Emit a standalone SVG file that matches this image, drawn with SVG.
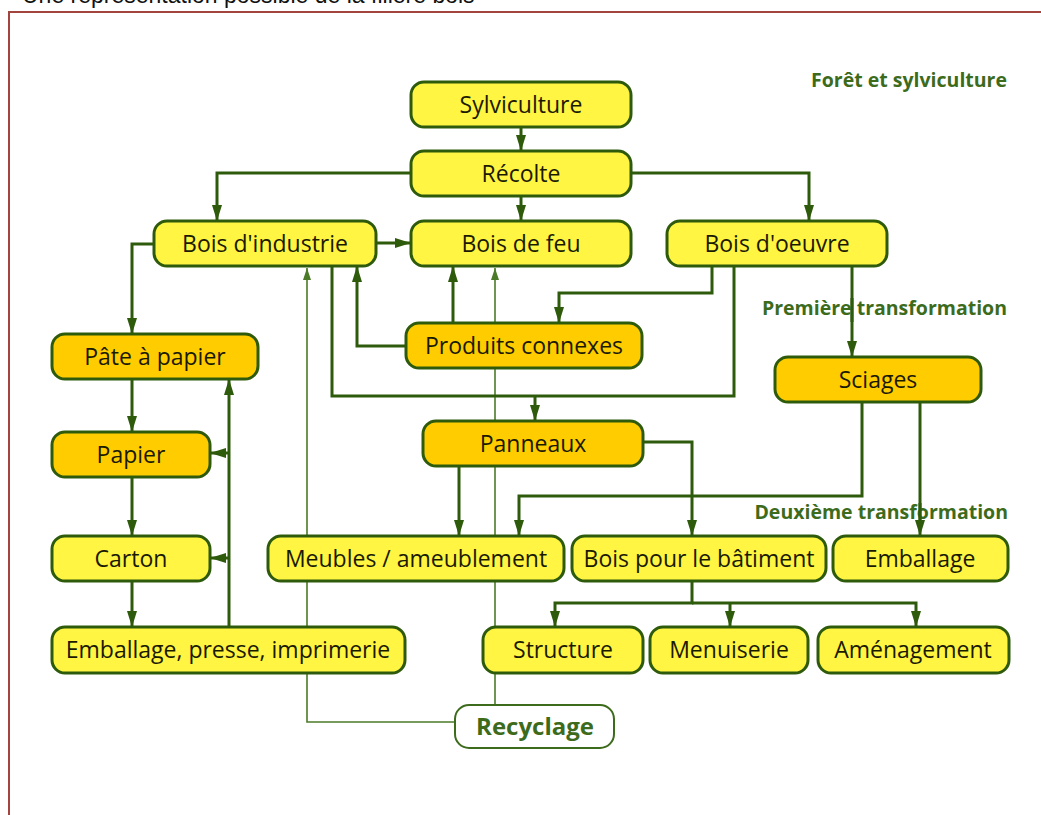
<svg xmlns="http://www.w3.org/2000/svg" width="1041" height="815" viewBox="0 0 1041 815">
<style>
.n rect{stroke:#2e5a0c;stroke-width:3}
.y rect{fill:#fff542}
.o rect{fill:#ffcc00}
.n text{font-family:"Open Sans","Noto Sans",sans-serif;font-size:23px;fill:#1a1a00;text-anchor:middle}
.c{fill:none;stroke:#2e5a0c;stroke-width:3}
.t{fill:none;stroke:#4b7a28;stroke-width:1.6}
.lab{font-family:"Open Sans","Noto Sans",sans-serif;font-weight:bold;font-size:19.5px;fill:#3d6b1c;text-anchor:end}
</style>
<defs>
<marker id="a" viewBox="0 0 16 10" refX="16" refY="5" markerWidth="16" markerHeight="10" markerUnits="userSpaceOnUse" orient="auto">
<path d="M0,0 L16,5 L0,10 z" fill="#2e5a0c"/>
</marker>
<marker id="b" viewBox="0 0 12 8" refX="12" refY="4" markerWidth="12" markerHeight="8" markerUnits="userSpaceOnUse" orient="auto">
<path d="M0,0 L12,4 L0,8 z" fill="#4b7a28"/>
</marker>
</defs>
<rect x="0" y="0" width="1041" height="815" fill="#ffffff"/>
<text x="22" y="3" font-family="Liberation Sans, Arial, sans-serif" font-size="23" fill="#111">Une représentation possible de la filière bois</text>
<path d="M9,815 V12 H1045" fill="none" stroke="#a3443f" stroke-width="2"/>

<g id="connectors">
<g id="thin">
<path class="t" d="M455,722 H307 V268" marker-end="url(#b)"/>
<path class="t" d="M495,705 V268" marker-end="url(#b)"/>
</g>
<path class="c" d="M521,127 V151" marker-end="url(#a)"/>
<path class="c" d="M521,196 V221" marker-end="url(#a)"/>
<path class="c" d="M411,173 H217 V221" marker-end="url(#a)"/>
<path class="c" d="M631,173 H809 V221" marker-end="url(#a)"/>
<path class="c" d="M376,243 H411" marker-end="url(#a)"/>
<path class="c" d="M154,244 H132 V334" marker-end="url(#a)"/>
<path class="c" d="M712,266 V293 H559 V323" marker-end="url(#a)"/>
<path class="c" d="M332,266 V396 H734 V266"/>
<path class="c" d="M535,396 V421" marker-end="url(#a)"/>
<path class="c" d="M852,266 V357" marker-end="url(#a)"/>
<path class="c" d="M406,346 H357 V266" marker-end="url(#a)"/>
<path class="c" d="M453,323 V266" marker-end="url(#a)"/>
<path class="c" d="M132,379 V432" marker-end="url(#a)"/>
<path class="c" d="M132,477 V536" marker-end="url(#a)"/>
<path class="c" d="M132,581 V627" marker-end="url(#a)"/>
<path class="c" d="M229,627 V379" marker-end="url(#a)"/>
<path class="c" d="M229,453 H210" marker-end="url(#a)"/>
<path class="c" d="M229,558 H210" marker-end="url(#a)"/>
<path class="c" d="M459,466 V536" marker-end="url(#a)"/>
<path class="c" d="M643,442 H692 V536" marker-end="url(#a)"/>
<path class="c" d="M862,402 V496 H519 V536" marker-end="url(#a)"/>
<path class="c" d="M920,402 V536" marker-end="url(#a)"/>
<path class="c" d="M692,581 V603 H555 V627" marker-end="url(#a)"/>
<path class="c" d="M692,603 H916 V627" marker-end="url(#a)"/>
<path class="c" d="M730,603 V627" marker-end="url(#a)"/>
</g>

<text class="lab" x="1007" y="87">Forêt et sylviculture</text>
<text class="lab" x="1007" y="315">Première transformation</text>
<text class="lab" x="1008" y="519">Deuxième transformation</text>
<path class="c" d="M852,298 V322"/>
<path class="c" d="M920,503 V527"/>

<g id="sylviculture" class="n y"><rect x="411" y="82" width="220" height="45" rx="13"/><text x="521" y="113">Sylviculture</text></g>
<g id="recolte" class="n y"><rect x="411" y="151" width="220" height="45" rx="13"/><text x="521" y="182">Récolte</text></g>
<g id="bois-industrie" class="n y"><rect x="154" y="221" width="222" height="45" rx="13"/><text x="265" y="252">Bois d'industrie</text></g>
<g id="bois-feu" class="n y"><rect x="411" y="221" width="220" height="45" rx="13"/><text x="521" y="252">Bois de feu</text></g>
<g id="bois-oeuvre" class="n y"><rect x="667" y="221" width="220" height="45" rx="13"/><text x="777" y="252">Bois d'oeuvre</text></g>
<g id="produits-connexes" class="n o"><rect x="406" y="323" width="236" height="45" rx="13"/><text x="524" y="354">Produits connexes</text></g>
<g id="pate-papier" class="n o"><rect x="52" y="334" width="206" height="45" rx="13"/><text x="155" y="365">Pâte à papier</text></g>
<g id="sciages" class="n o"><rect x="775" y="357" width="206" height="45" rx="13"/><text x="878" y="388">Sciages</text></g>
<g id="panneaux" class="n o"><rect x="423" y="421" width="220" height="45" rx="13"/><text x="533" y="452">Panneaux</text></g>
<g id="papier" class="n o"><rect x="52" y="432" width="158" height="45" rx="13"/><text x="131" y="463">Papier</text></g>
<g id="carton" class="n y"><rect x="52" y="536" width="158" height="45" rx="13"/><text x="131" y="567">Carton</text></g>
<g id="meubles" class="n y"><rect x="268" y="536" width="296" height="45" rx="13"/><text x="416" y="567">Meubles / ameublement</text></g>
<g id="bois-batiment" class="n y"><rect x="572" y="536" width="254" height="45" rx="13"/><text x="699" y="567">Bois pour le bâtiment</text></g>
<g id="emballage" class="n y"><rect x="833" y="536" width="175" height="45" rx="13"/><text x="920" y="567">Emballage</text></g>
<g id="emballage-presse" class="n y"><rect x="52" y="627" width="353" height="46" rx="13"/><text x="228" y="658">Emballage, presse, imprimerie</text></g>
<g id="structure" class="n y"><rect x="483" y="627" width="160" height="46" rx="13"/><text x="563" y="658">Structure</text></g>
<g id="menuiserie" class="n y"><rect x="650" y="627" width="158" height="46" rx="13"/><text x="729" y="658">Menuiserie</text></g>
<g id="amenagement" class="n y"><rect x="818" y="627" width="191" height="46" rx="13"/><text x="913" y="658">Aménagement</text></g>
<g id="recyclage"><rect x="455" y="705" width="159" height="43" rx="14" fill="#ffffff" stroke="#3d6b1c" stroke-width="2"/><text x="535" y="735" font-family="Open Sans, Noto Sans, sans-serif" font-weight="bold" font-size="24" fill="#3d6b1c" text-anchor="middle">Recyclage</text></g>
</svg>
